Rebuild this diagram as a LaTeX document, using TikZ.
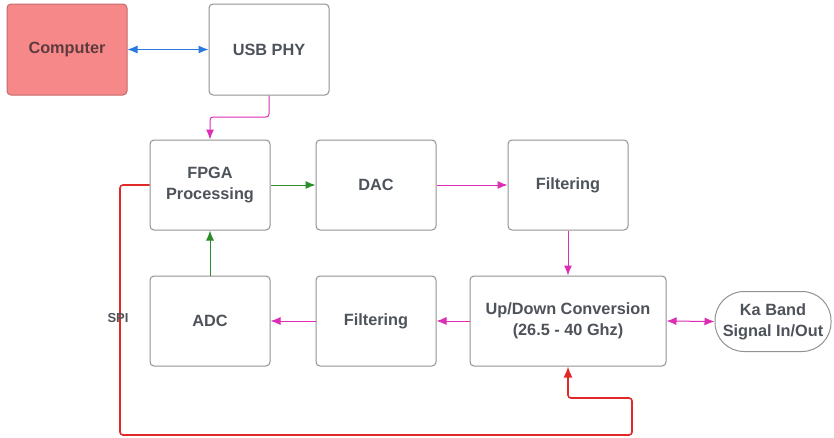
\documentclass[tikz,border=0pt]{standalone}
\usepackage{fontspec}
\setmainfont{Liberation Sans}
\usetikzlibrary{arrows.meta}
\definecolor{txt}{HTML}{4E535A}
\definecolor{comptxt}{HTML}{5E3C3E}
\definecolor{bord}{HTML}{929292}
\definecolor{comp}{HTML}{F78889}
\definecolor{compb}{HTML}{C46A6A}
\definecolor{mag}{HTML}{DC2DB4}
\definecolor{grn}{HTML}{2A8C2A}
\definecolor{blu}{HTML}{2A78E0}
\definecolor{redl}{HTML}{E02A2A}
\tikzset{
  blk/.style={draw=bord, line width=1pt, rounded corners=4pt, fill=white,
    minimum width=120pt, minimum height=90pt, align=center, inner sep=2pt,
    font=\fontsize{16.3}{21}\selectfont\bfseries, text=txt},
  tipm/.style={-{Latex[length=10pt,width=8pt]}},
  conm/.style={draw=mag, line width=1pt, tipm},
  cong/.style={draw=grn, line width=1pt, tipm},
}
\begin{document}
\begin{tikzpicture}[x=1pt,y=-1pt]
\path[fill=white] (0,0) rectangle (834,437);
\useasboundingbox (0,0) rectangle (834,437);

\node[blk, fill=comp, draw=compb, text=comptxt, minimum height=91pt] (comp) at (67,49.5) {Computer};
\node[blk, minimum height=91pt] (usb) at (269,49.5) {USB PHY};
\node[blk] (fpga) at (210,185) {FPGA\\Processing};
\node[blk] (dac) at (376,185) {DAC};
\node[blk] (filt1) at (568,185) {Filtering};
\node[blk] (adc) at (210,321) {ADC};
\node[blk] (filt2) at (376,321) {Filtering};
\node[blk, minimum width=196pt] (updown) at (568,321) {Up/Down Conversion\\(26.5 - 40 Ghz)};
\node[blk, minimum width=116pt, minimum height=60pt, rounded corners=29pt] (ka) at (773,321.5) {Ka Band\\Signal In/Out};

\coordinate (m1) at (210,117);
\coordinate (r1) at (120,435);
\coordinate (r2) at (632,398);

\draw[draw=blu, line width=1pt, {Latex[length=10pt,width=8pt]}-{Latex[length=10pt,width=8pt]}] (comp.east) -- (usb.west);
\draw[conm, rounded corners=3pt] (usb.south) |- (m1) -- (fpga.north);
\draw[cong] (fpga.east) -- (dac.west);
\draw[conm] (dac.east) -- (filt1.west);
\draw[conm] (filt1.south) -- (updown.north);
\draw[conm] (updown.west) -- (filt2.east);
\draw[conm] (filt2.west) -- (adc.east);
\draw[cong] (adc.north) -- (fpga.south);
\draw[draw=mag, line width=1pt, {Latex[length=10pt,width=8pt]}-{Latex[length=10pt,width=8pt]}] (updown.east) -- (ka.west);
\draw[draw=redl, line width=1.6pt, rounded corners=3pt, -{Latex[length=11pt,width=9pt]}] (fpga.west) -| (r1) -| (r2) -| (updown.south);
\node[inner sep=1pt, font=\fontsize{13}{14}\selectfont\bfseries, text=txt] (spi) at (118,318) {SPI};
\end{tikzpicture}
\end{document}
